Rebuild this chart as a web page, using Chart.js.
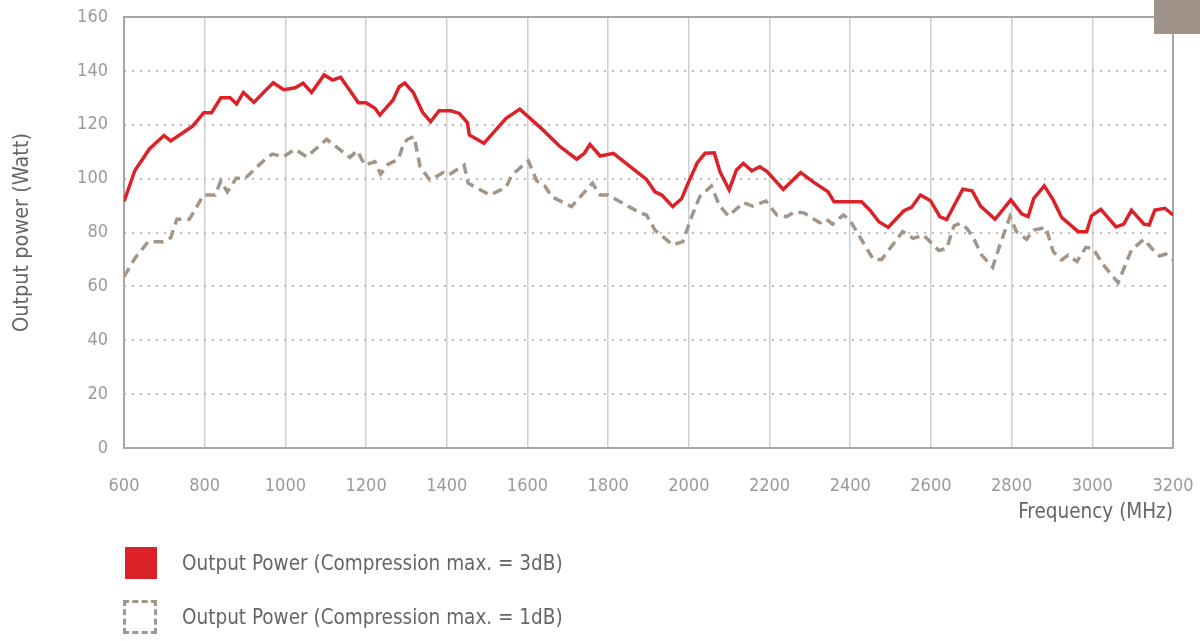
<!DOCTYPE html>
<html>
<head>
<meta charset="utf-8">
<script src="https://cdn.jsdelivr.net/npm/chart.js@4.4.1/dist/chart.umd.min.js"></script>
<style>
  html, body { margin: 0; padding: 0; background: #fff; }
  #wrap { position: relative; width: 1200px; height: 641px; overflow: hidden; }
  #chart { position: absolute; left: 0; top: 0; }
  #corner { position: absolute; left: 1154px; top: 0; width: 46px; height: 34px; background: #a0948a; }
  .legend-item { position: absolute; left: 123px; height: 36px; display: flex; align-items: center;
    font-family: 'Liberation Sans Narrow', 'DejaVu Sans Condensed', 'Roboto Condensed', sans-serif;
    font-size: 20.5px; color: #666; }
  .swatch { box-sizing: border-box; width: 34px; height: 34px; margin-right: 25px; }
</style>
</head>
<body>
<div id="wrap">
  <canvas id="chart" width="1200" height="641"></canvas>
  <div id="corner"></div>
  <div id="legend"></div>
</div>
<script>
// Output Power (Compression max. = 3dB)
const freq3dB = [600, 627, 663, 699, 716, 770, 798, 817, 840, 863, 879, 896, 922, 950, 970, 996, 1024, 1044, 1065, 1096,
  1117, 1137, 1181, 1200, 1222, 1234, 1267, 1282, 1296, 1317, 1340, 1360, 1381, 1410, 1431, 1451, 1456, 1492, 1547, 1581,
  1639, 1679, 1722, 1741, 1755, 1780, 1813, 1895, 1916, 1933, 1960, 1982, 1996, 2021, 2040, 2063, 2077, 2100, 2118, 2135,
  2156, 2176, 2194, 2234, 2277, 2308, 2345, 2360, 2428, 2449, 2471, 2494, 2533, 2552, 2574, 2599, 2622, 2639, 2679, 2702,
  2723, 2759, 2798, 2825, 2841, 2855, 2881, 2903, 2924, 2965, 2986, 2998, 3021, 3059, 3078, 3097, 3128, 3141, 3155, 3180, 3200];
const power3dB = [91.5, 103, 111, 116, 114, 119.5, 124.5, 124.5, 130, 130, 127.7, 132, 128.3, 132.6, 135.6, 133, 133.7, 135.4, 132, 138.5,
  136.6, 137.6, 128.2, 128.2, 126.1, 123.6, 129.2, 134.1, 135.5, 132, 124.6, 121.1, 125.2, 125.2, 124.2, 120.8, 116.2, 113.1, 122.4, 125.8,
  118, 112.1, 107.2, 109.4, 112.7, 108.4, 109.4, 99.7, 95.1, 93.9, 89.6, 92.5, 97.6, 105.9, 109.4, 109.6, 102.6, 95.8, 103.2, 105.7,
  102.9, 104.4, 102.6, 96, 102.3, 98.8, 95.1, 91.4, 91.4, 88.3, 84, 81.9, 88.1, 89.3, 93.9, 91.8, 85.9, 84.8, 96.1, 95.5,
  89.8, 84.9, 92.1, 86.9, 85.9, 92.7, 97.3, 92.1, 85.6, 80.3, 80.3, 86.2, 88.6, 82.1, 83.1, 88.3, 83.1, 82.8, 88.3, 89, 86.5];

// Output Power (Compression max. = 1dB)
const freq1dB = [600, 627, 660, 697, 716, 731, 762, 797, 826, 840, 856, 878, 900, 952, 968, 995, 1024, 1053, 1102, 1160,
  1178, 1197, 1222, 1236, 1255, 1280, 1294, 1305, 1319, 1334, 1358, 1391, 1404, 1443, 1453, 1507, 1547, 1561, 1602, 1623,
  1643, 1660, 1709, 1761, 1780, 1800, 1879, 1895, 1916, 1960, 1985, 2007, 2027, 2056, 2075, 2098, 2135, 2158, 2191, 2218,
  2242, 2263, 2285, 2325, 2341, 2356, 2383, 2399, 2457, 2478, 2530, 2556, 2581, 2620, 2639, 2657, 2671, 2689, 2706, 2726,
  2753, 2771, 2796, 2812, 2837, 2855, 2885, 2903, 2924, 2940, 2962, 2984, 3001, 3031, 3064, 3097, 3128, 3149, 3167, 3182, 3200];
const power1dB = [63.6, 70.4, 76.6, 76.6, 78.1, 84.9, 84.9, 93.9, 93.9, 99.2, 95.1, 100.1, 100.1, 107.5, 109.1, 108.1, 110.9, 108.1, 114.6, 107.9,
  110.4, 105, 106.3, 101.7, 105.4, 107.2, 113.4, 114.8, 115.6, 104.4, 99.5, 102.2, 101.3, 105, 98.3, 93.9, 96.8, 101.3, 106.6, 99.2,
  97.3, 93.3, 89.6, 98.3, 93.9, 93.9, 87.3, 86.5, 80.9, 75.4, 76.6, 85.9, 93.3, 97.3, 90.2, 86.1, 91.1, 89.8, 91.7, 86.5,
  85.9, 87.7, 87.3, 83.6, 84.9, 83.1, 86.5, 84.6, 70, 70, 80.3, 77.8, 79.1, 73.3, 74.1, 82.4, 83.4, 81.6, 77.8, 71.6,
  67.1, 75.4, 85.9, 80.3, 77.5, 80.9, 81.9, 72.9, 69.8, 71.6, 69.2, 74.5, 74.1, 67.3, 61.4, 73.5, 77.5, 73.8, 71.3, 72, 70];

const seriesLabels = ['Output Power (Compression max. = 3dB)', 'Output Power (Compression max. = 1dB)'];
const xTicks = [600, 3200, 200];   // min, max, step
const yTicks = [0, 160, 20];

const RED = '#dd2129';
const TAUPE = '#a39689';
const FONT = "'Liberation Sans Narrow', 'DejaVu Sans Condensed', 'Roboto Condensed', sans-serif";

function toPoints(xs, ys) {
  return xs.map((x, i) => ({ x: x, y: ys[i] }));
}

// frame round the plot area
const framePlugin = {
  id: 'frame',
  beforeDatasetsDraw(chart) {
    const a = chart.chartArea;
    const ctx = chart.ctx;
    ctx.save();
    ctx.strokeStyle = '#a6a6a6';
    ctx.lineWidth = 2;
    ctx.strokeRect(a.left, a.top, a.right - a.left, a.bottom - a.top);
    ctx.restore();
  }
};

new Chart(document.getElementById('chart'), {
  type: 'line',
  plugins: [framePlugin],
  data: {
    datasets: [
      {
        label: seriesLabels[0],
        data: toPoints(freq3dB, power3dB),
        borderColor: RED,
        backgroundColor: RED,
        borderWidth: 3.5,
        pointRadius: 0,
        tension: 0
      },
      {
        label: seriesLabels[1],
        data: toPoints(freq1dB, power1dB),
        borderColor: TAUPE,
        backgroundColor: TAUPE,
        borderWidth: 3.5,
        borderDash: [10, 6],
        pointRadius: 0,
        tension: 0
      }
    ]
  },
  options: {
    responsive: false,
    animation: false,
    layout: { padding: { top: 17, right: 27, bottom: 113, left: 0 } },
    plugins: {
      legend: { display: false },
      tooltip: { enabled: false }
    },
    scales: {
      x: {
        type: 'linear',
        min: xTicks[0],
        max: xTicks[1],
        ticks: { stepSize: xTicks[2], padding: 28, color: '#9a9a9a', font: { family: FONT, size: 18 }, maxRotation: 0,
          callback: (v) => String(v) },
        grid: { color: '#cfcfcf', lineWidth: 1.5, drawTicks: false },
        border: { display: false },
        title: { display: true, text: 'Frequency (MHz)', align: 'end', color: '#666', font: { family: FONT, size: 20.5 }, padding: { top: 0, bottom: 3 } },
        afterFit(scale) { scale.height = 80; scale.paddingLeft = 0; scale.paddingRight = 0; }
      },
      y: {
        min: yTicks[0],
        max: yTicks[1],
        ticks: { stepSize: yTicks[2], padding: 16, color: '#9a9a9a', font: { family: FONT, size: 18 } },
        grid: { color: '#bdbdbd', lineWidth: 2, drawTicks: false },
        border: { display: false, dash: [2, 6] },
        title: { display: true, text: 'Output power (Watt)', color: '#666', font: { family: FONT, size: 21.5 }, padding: { top: 10, bottom: 0 } },
        afterFit(scale) { scale.width = 124; scale.paddingTop = 0; scale.paddingBottom = 0; }
      }
    }
  }
});

// legend below the chart
const legend = document.getElementById('legend');
const swatchStyles = [
  'background:' + RED + ';width:32px;height:32px;margin-left:2px;margin-right:25px;',
  'border:3px dashed ' + TAUPE + ';'
];
const legendTops = [545, 599];
seriesLabels.forEach((text, i) => {
  const item = document.createElement('div');
  item.className = 'legend-item';
  item.style.top = legendTops[i] + 'px';
  const sw = document.createElement('div');
  sw.className = 'swatch';
  sw.style.cssText = swatchStyles[i];
  const label = document.createElement('span');
  label.textContent = text;
  item.appendChild(sw);
  item.appendChild(label);
  legend.appendChild(item);
});
</script>
</body>
</html>
